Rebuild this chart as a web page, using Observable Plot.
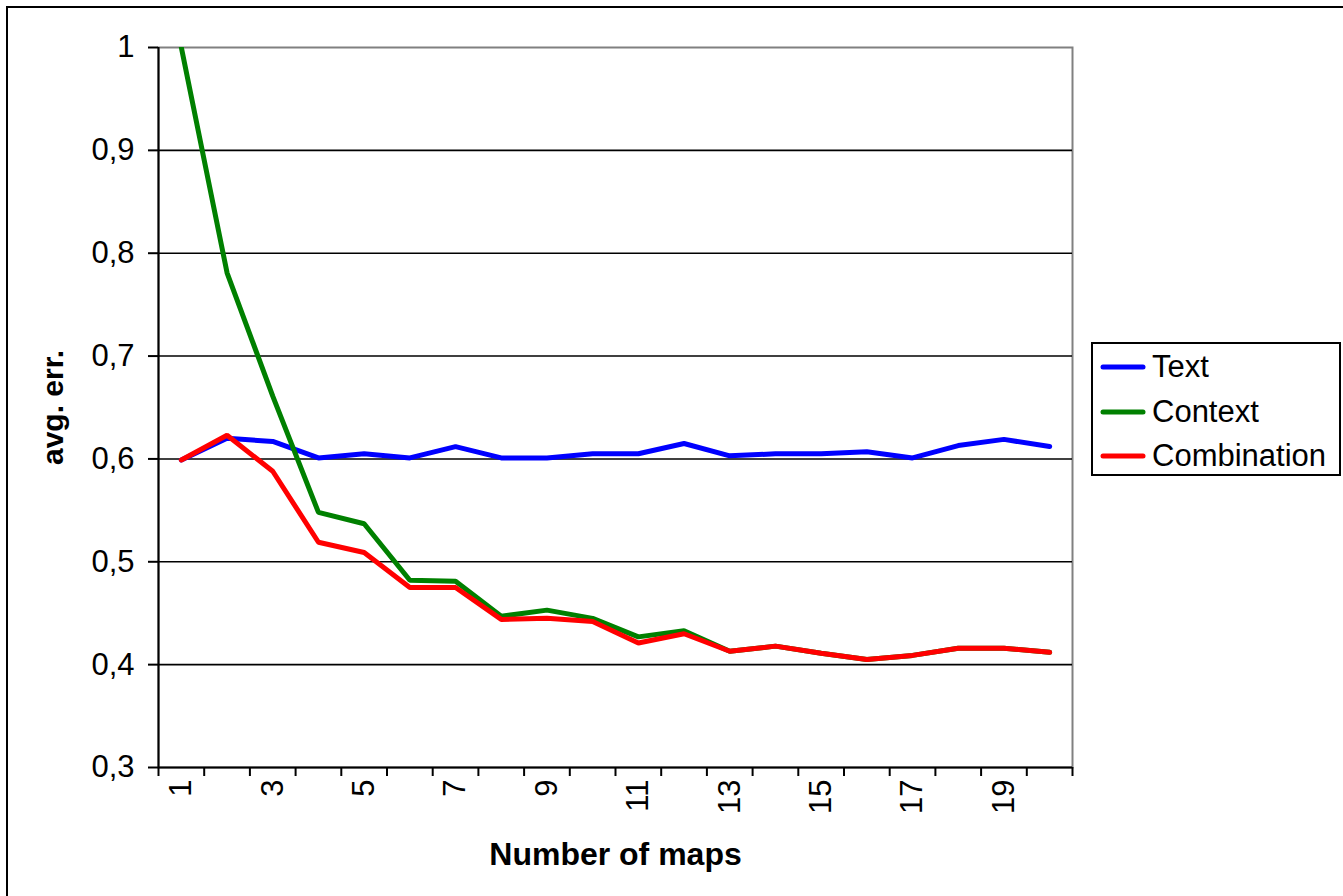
<!DOCTYPE html>
<html><head><meta charset="utf-8">
<script src="https://cdn.jsdelivr.net/npm/d3@7"></script>
<script src="https://cdn.jsdelivr.net/npm/@observablehq/plot@0.6"></script>
<style>
body{margin:0;background:#fff;}
#wrap{position:relative;width:1343px;height:896px;overflow:hidden;font-family:"Liberation Sans",Arial,sans-serif;color:#000;}
#outer{position:absolute;left:6px;top:6px;width:1400px;height:1000px;border-left:2px solid #000;border-top:2px solid #000;pointer-events:none;}
#legend{position:absolute;left:1091px;top:342px;width:246px;height:130px;border:2px solid #000;background:#fff;}
.item{position:absolute;left:6px;height:40px;display:flex;align-items:center;font-size:31px;white-space:nowrap;}
.item svg{margin-right:5px;}
#chart{position:absolute;left:0;top:0;}
</style></head>
<body>
<div id="wrap">
  <div id="chart"></div>
  <div id="outer"></div>
  <div id="legend"></div>
</div>
<script>
const categories = [1,2,3,4,5,6,7,8,9,10,11,12,13,14,15,16,17,18,19,20];
const textErr = [0.599,0.620,0.617,0.601,0.605,0.601,0.612,0.601,0.601,0.605,0.605,0.615,0.603,0.605,0.605,0.607,0.601,0.613,0.619,0.612];
const contextErr = [1.0,0.781,0.661,0.548,0.537,0.482,0.481,0.447,0.453,0.445,0.427,0.433,0.413,0.418,0.411,0.405,0.409,0.416,0.416,0.412];
const combinationErr = [0.599,0.623,0.588,0.519,0.509,0.475,0.475,0.444,0.445,0.442,0.421,0.430,0.413,0.418,0.411,0.405,0.409,0.416,0.416,0.412];
const seriesNames = ["Text","Context","Combination"];
const seriesColors = ["#0000ff","#008000","#ff0000"];
const yTicks = [0.3,0.4,0.5,0.6,0.7,0.8,0.9,1.0];
const yTickLabels = ["0,3","0,4","0,5","0,6","0,7","0,8","0,9","1"];
const xTickLabels = [1,3,5,7,9,11,13,15,17,19];
const xBoundaries = [0.5,1.5,2.5,3.5,4.5,5.5,6.5,7.5,8.5,9.5,10.5,11.5,12.5,13.5,14.5,15.5,16.5,17.5,18.5,19.5,20.5];

const series = [textErr, contextErr, combinationErr];
const lines = series.map((vals, k) => categories.map((c, i) => ({x: c, y: vals[i], s: seriesNames[k]})));

const chart = Plot.plot({
  width: 1343, height: 896,
  marginLeft: 158, marginRight: 271, marginTop: 47, marginBottom: 129,
  style: {fontFamily: '"Liberation Sans", Arial, sans-serif', fontSize: "31px", background: "transparent", color: "#000", overflow: "visible"},
  x: {type: "linear", domain: [0.5, 20.5]},
  y: {domain: [0.3, 1]},
  marks: [
    Plot.frame({stroke: "#808080", strokeWidth: 2}),
    Plot.gridY(yTicks.slice(1, -1), {stroke: "#000", strokeOpacity: 1, strokeWidth: 1.6}),
    Plot.axisY(yTicks, {tickSize: 10, tickPadding: 14, strokeWidth: 2, fontSize: 31, tickFormat: d => yTickLabels[yTicks.indexOf(d)], label: null}),
    Plot.axisX(xBoundaries, {tickSize: 9, strokeWidth: 2, tickFormat: () => "", label: null}),
    Plot.axisX(xTickLabels, {tickSize: 0, tickRotate: -90, tickPadding: 12, fontSize: 31, label: null}),
    Plot.ruleX([0.5], {stroke: "#000", strokeWidth: 2}),
    Plot.ruleY([0.3], {stroke: "#000", strokeWidth: 2}),
    ...lines.map((d, k) => Plot.line(d, {x: "x", y: "y", stroke: seriesColors[k], strokeWidth: 5, strokeLinejoin: "miter", clip: true})),
    Plot.text(["avg. err."], {frameAnchor: "left", dx: -105, rotate: -90, textAnchor: "middle", fontWeight: "bold", fontSize: 30}),
    Plot.text(["Number of maps"], {frameAnchor: "bottom", dy: 97, textAnchor: "middle", fontWeight: "bold", fontSize: 32})
  ]
});
document.getElementById("chart").appendChild(chart);

const legend = document.getElementById("legend");
seriesNames.forEach((name, k) => {
  const row = document.createElement("div");
  row.className = "item";
  row.style.top = (3 + k * 44.5) + "px";
  row.innerHTML = `<svg width="48" height="10"><line x1="4" y1="5" x2="44" y2="5" stroke="${seriesColors[k]}" stroke-width="5" stroke-linecap="round"/></svg><span>${name}</span>`;
  legend.appendChild(row);
});
</script>
</body></html>
